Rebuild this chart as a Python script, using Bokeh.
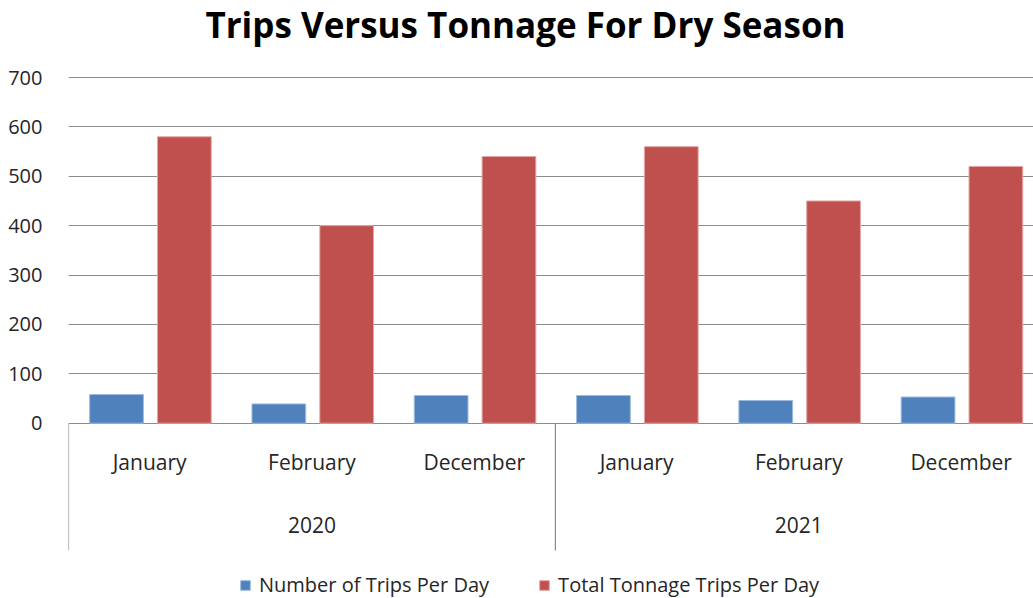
from bokeh.plotting import figure
from bokeh.models import (ColumnDataSource, Range1d, FixedTicker, Legend, LegendItem,
                          Label)
from bokeh.core.properties import value
from bokeh.embed import file_html
from bokeh.resources import INLINE

# Data
years = ["2020", "2021"]
months = ["January", "February", "December", "January", "February", "December"]
trips_per_day = [58, 39, 56, 56, 46, 53]
tonnage_trips_per_day = [580, 400, 540, 560, 450, 520]
y_ticks = [0, 100, 200, 300, 400, 500, 600, 700]

BLUE = "#4F81BD"
RED = "#C0504D"
GRID = "#8C8C8C"
TEXT = "#262626"
FONT = "Open Sans"

n = len(months)
centers = [i + 0.5 for i in range(n)]
blue_x = [i + 0.296 for i in range(n)]
red_x = [i + 0.714 for i in range(n)]
bar_w = 0.331

# pixel geometry: the frame fills the canvas right of the y-axis labels
W, H, left = 1033, 598, 68
top_px, zero_px = 77.0, 422.7          # screen rows of 700 and 0
cat_px = 162.3                          # width of one month slot
x_end = (W - left) / cat_px
y_max = 700
ppu = (zero_px - top_px) / y_max        # pixels per unit
y_top = y_max + top_px / ppu
y_bot = -(H - zero_px) / ppu


def row(px):
    """data y for a screen row measured from the top"""
    return (zero_px - px) / ppu


p = figure(width=W, height=H, output_backend="svg", toolbar_location=None,
           x_range=Range1d(0, x_end), y_range=Range1d(y_bot, y_top),
           min_border_left=left, min_border_right=0, min_border_top=0,
           min_border_bottom=0)
p.outline_line_color = None
p.background_fill_color = "white"
p.border_fill_color = "white"

# axes
p.xaxis.visible = False
p.yaxis.ticker = FixedTicker(ticks=y_ticks)
p.yaxis.axis_line_color = None
p.yaxis.major_tick_line_color = None
p.yaxis.minor_tick_line_color = None
p.yaxis.major_label_standoff = 20
p.yaxis.major_label_text_font = FONT
p.yaxis.major_label_text_font_size = "20px"
p.yaxis.major_label_text_color = TEXT
p.xgrid.visible = False
p.ygrid.ticker = FixedTicker(ticks=y_ticks)
p.ygrid.grid_line_color = GRID
p.ygrid.grid_line_width = 1.2

src = ColumnDataSource(dict(bx=blue_x, rx=red_x, trips=trips_per_day,
                            tons=tonnage_trips_per_day, cx=centers, month=months))

rb = p.vbar(x="bx", top="trips", bottom=0, width=bar_w, source=src,
            fill_color=BLUE, line_color="#9DB9DD", line_width=1)
rr = p.vbar(x="rx", top="tons", bottom=0, width=bar_w, source=src,
            fill_color=RED, line_color="#E3A6A4", line_width=1)

# month labels beneath the baseline
p.text(x="cx", y=row(461), text="month", source=src, text_align="center",
       text_baseline="middle", text_font=value(FONT), text_font_size="21px",
       text_color=TEXT)

# year group labels and separators
group = 3
year_src = ColumnDataSource(dict(x=[group * (i + 0.5) for i in range(len(years))],
                                 year=years))
p.text(x="x", y=row(524), text="year", source=year_src, text_align="center",
       text_baseline="middle", text_font=value(FONT), text_font_size="21px",
       text_color=TEXT)
sep_x = [group * i for i in range(len(years) + 1)]
p.segment(x0=sep_x, y0=[0] * len(sep_x), x1=sep_x, y1=[row(550)] * len(sep_x),
          line_color=GRID, line_width=1.2)

# title
title = Label(x=525 - left, y=H - 24, x_units="screen", y_units="screen",
              text="Trips Versus Tonnage For Dry Season", text_align="center",
              text_baseline="middle", text_font=FONT, text_font_style="bold",
              text_font_size="35px", text_color="black")
p.add_layout(title)

legend = Legend(items=[LegendItem(label="Number of Trips Per Day", renderers=[rb]),
                       LegendItem(label="Total Tonnage Trips Per Day", renderers=[rr])],
                orientation="horizontal", location=(243 - left - 4, 598 - 583 - 15),
                label_text_font=FONT, label_text_font_size="20px",
                label_text_color=TEXT, glyph_width=12, glyph_height=12,
                spacing=49, border_line_color=None, background_fill_alpha=0,
                label_standoff=8, padding=4, margin=0, label_height=22)
p.add_layout(legend)

open("out.html", "w").write(file_html(p, INLINE))
